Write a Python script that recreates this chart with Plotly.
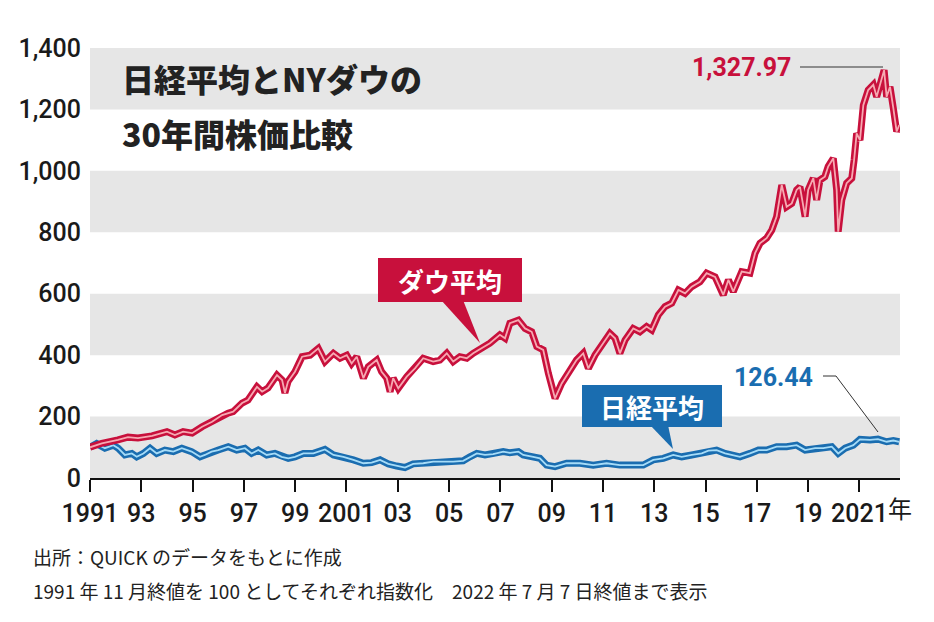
import plotly.graph_objects as go

# ---- data (index, 1991/11 = 100) ----
dow_x = [1991.00, 1991.46, 1992.09, 1992.48, 1992.87, 1993.42, 1994.00, 1994.31, 1994.63, 1994.98,
         1995.37, 1995.76, 1996.15, 1996.38, 1996.58, 1996.93, 1997.16, 1997.51, 1997.71, 1997.94,
         1998.29, 1998.49, 1998.60, 1998.72, 1998.99, 1999.27, 1999.58, 1999.90, 2000.16, 2000.49,
         2000.75, 2001.01, 2001.20, 2001.40, 2001.66, 2001.85, 2002.18, 2002.37, 2002.57, 2002.70,
         2002.82, 2003.02, 2003.35, 2003.67, 2003.99, 2004.38, 2004.64, 2004.91, 2005.16, 2005.42,
         2005.69, 2005.94, 2006.27, 2006.59, 2006.98, 2007.18, 2007.37, 2007.70, 2007.96, 2008.22,
         2008.42, 2008.67, 2008.87, 2009.13, 2009.39, 2009.71, 2009.97, 2010.23, 2010.43, 2010.69,
         2010.95, 2011.27, 2011.47, 2011.66, 2011.86, 2012.18, 2012.44, 2012.70, 2012.90, 2013.16,
         2013.42, 2013.68, 2013.94, 2014.20, 2014.46, 2014.78, 2015.04, 2015.37, 2015.69, 2015.89,
         2016.08, 2016.41, 2016.73, 2016.93, 2017.12, 2017.38, 2017.58, 2017.77, 2017.97, 2018.16,
         2018.36, 2018.55, 2018.68, 2018.88, 2019.00, 2019.20, 2019.33, 2019.46, 2019.65, 2019.78,
         2019.98, 2020.11, 2020.17, 2020.31, 2020.50, 2020.70, 2020.79, 2020.89, 2021.02, 2021.15,
         2021.34, 2021.54, 2021.67, 2021.87, 2021.96, 2022.06, 2022.19, 2022.32, 2022.45, 2022.55]
dow_y = [100, 113, 124, 133, 130, 137, 151, 140, 151, 146,
         167, 183, 205, 211, 216, 244, 254, 297, 281, 293,
         335, 319, 277, 314, 346, 395, 400, 422, 379, 406,
         390, 400, 373, 395, 325, 362, 384, 346, 325, 281,
         325, 292, 330, 357, 390, 379, 384, 406, 379, 395,
         390, 406, 422, 439, 466, 455, 504, 514, 487, 476,
         428, 417, 341, 259, 308, 352, 384, 406, 357, 400,
         433, 471, 455, 406, 449, 487, 476, 493, 482, 531,
         558, 569, 612, 601, 623, 639, 667, 655, 596, 645,
         607, 672, 667, 732, 764, 781, 807, 851, 954, 883,
         894, 938, 948, 851, 938, 976, 905, 970, 981, 1014,
         1041, 938, 802, 905, 960, 976, 1035, 1122, 1100, 1214,
         1263, 1280, 1241, 1300, 1327.97, 1241, 1274, 1204, 1128, 1149]

nikkei_x = [1991.00, 1991.26, 1991.58, 1991.91, 1992.10, 1992.36, 1992.63, 1992.82, 1993.08, 1993.34,
            1993.60, 1993.92, 1994.25, 1994.58, 1994.96, 1995.29, 1995.48, 1995.74, 1996.00, 1996.39,
            1996.72, 1997.04, 1997.30, 1997.56, 1997.89, 1998.21, 1998.47, 1998.73, 1998.99, 1999.32,
            1999.71, 2000.16, 2000.49, 2000.88, 2001.27, 2001.66, 2001.98, 2002.31, 2002.63, 2002.96,
            2003.28, 2003.60, 2003.99, 2004.38, 2004.77, 2005.16, 2005.55, 2005.81, 2006.08, 2006.40,
            2006.72, 2007.11, 2007.37, 2007.70, 2007.89, 2008.28, 2008.54, 2008.80, 2009.13, 2009.58,
            2010.10, 2010.62, 2011.14, 2011.66, 2012.18, 2012.57, 2012.96, 2013.35, 2013.74, 2014.07,
            2014.46, 2014.85, 2015.11, 2015.43, 2015.76, 2016.02, 2016.34, 2016.73, 2017.06, 2017.38,
            2017.77, 2018.16, 2018.55, 2018.88, 2019.27, 2019.59, 2019.92, 2020.17, 2020.44, 2020.76,
            2021.02, 2021.41, 2021.72, 2022.06, 2022.32, 2022.55]
nikkei_y = [100, 112, 97, 107, 97, 75, 80, 69, 80, 97,
            80, 91, 86, 97, 86, 69, 75, 86, 91, 102,
            91, 97, 80, 91, 75, 80, 69, 64, 69, 80,
            80, 93, 75, 69, 59, 48, 50, 59, 46, 39,
            34, 46, 48, 53, 53, 53, 56, 69, 80, 75,
            78, 86, 82, 86, 75, 69, 64, 42, 37, 48,
            48, 42, 48, 42, 42, 42, 59, 64, 75, 69,
            75, 80, 89, 91, 80, 75, 69, 80, 91, 91,
            102, 102, 107, 91, 97, 97, 102, 80, 97, 107,
            126, 124, 126.44, 118, 122, 118]

y_ticks = [0, 200, 400, 600, 800, 1000, 1200, 1400]
x_ticks = list(range(1991, 2022, 2))
x_labels = ["1991", "93", "95", "97", "99", "2001", "03", "05", "07", "09",
            "11", "13", "15", "17", "19", "2021"]

RED = "#c8103c"
RED_IN = "#f6a9b2"
BLUE = "#1a6db0"
BLUE_IN = "#a6dcf8"
JP = "Noto Sans CJK JP"
NUM = "Roboto"

# plot area in pixels: x 90..900, y 48..478
def px(x):
    return (x - 90) / 810


def py(y):
    return (478 - y) / 430


fig = go.Figure()
for xs, ys, outer, inner in [(nikkei_x, nikkei_y, BLUE, BLUE_IN), (dow_x, dow_y, RED, RED_IN)]:
    fig.add_trace(go.Scatter(x=xs, y=ys, mode="lines", line=dict(color=outer, width=7),
                             hoverinfo="skip", showlegend=False))
    fig.add_trace(go.Scatter(x=xs, y=ys, mode="lines", line=dict(color=inner, width=1.8),
                             hoverinfo="skip", showlegend=False))

shapes = []
# alternating grey bands
for lo in [0, 400, 800, 1200]:
    shapes.append(dict(type="rect", xref="paper", yref="y", x0=0, x1=1, y0=lo, y1=lo + 200,
                       fillcolor="#e6e6e6", line=dict(width=0), layer="below"))

# callout boxes
shapes.append(dict(type="rect", xref="paper", yref="paper", x0=px(378), x1=px(522),
                   y0=py(302), y1=py(258), fillcolor=RED, line=dict(width=0)))
shapes.append(dict(type="path", xref="paper", yref="paper",
                   path=f"M {px(441)} {py(300)} L {px(463)} {py(300)} L {px(480)} {py(343)} Z",
                   fillcolor=RED, line=dict(width=0)))
shapes.append(dict(type="rect", xref="paper", yref="paper", x0=px(582), x1=px(722),
                   y0=py(427), y1=py(385), fillcolor=BLUE, line=dict(width=0)))
shapes.append(dict(type="path", xref="paper", yref="paper",
                   path=f"M {px(650)} {py(425)} L {px(668)} {py(425)} L {px(673)} {py(449)} Z",
                   fillcolor=BLUE, line=dict(width=0)))

# leader lines
shapes.append(dict(type="line", xref="paper", yref="paper", x0=px(800), x1=px(883),
                   y0=py(67), y1=py(67), line=dict(color="#333333", width=1)))
shapes.append(dict(type="path", xref="paper", yref="paper",
                   path=f"M {px(823)} {py(376)} L {px(836)} {py(376)} L {px(878)} {py(432)}",
                   line=dict(color="#333333", width=1)))

annotations = [
    dict(text="日経平均とNYダウの", x=px(120), y=py(78), xanchor="left", yanchor="middle",
         font=dict(family=JP, size=32, color="#222222", weight=900)),
    dict(text="30年間株価比較", x=px(120), y=py(133), xanchor="left", yanchor="middle",
         font=dict(family=JP, size=32, color="#222222", weight=900)),
    dict(text="ダウ平均", x=px(450), y=py(280), xanchor="center", yanchor="middle",
         font=dict(family=JP, size=26, color="white", weight=700)),
    dict(text="日経平均", x=px(652), y=py(406), xanchor="center", yanchor="middle",
         font=dict(family=JP, size=26, color="white", weight=700)),
    dict(text="1,327.97", x=px(793), y=py(67), xanchor="right", yanchor="middle",
         font=dict(family=NUM, size=25, color=RED, weight=700)),
    dict(text="126.44", x=px(815), y=py(377), xanchor="right", yanchor="middle",
         font=dict(family=NUM, size=25, color=BLUE, weight=700)),
    dict(text="年", x=px(886), y=py(508), xanchor="left", yanchor="middle",
         font=dict(family=JP, size=24, color="#1a1a1a")),
    dict(text="出所：QUICK のデータをもとに作成", x=px(31), y=py(556), xanchor="left",
         yanchor="middle", font=dict(family=JP, size=19, color="#222222")),
    dict(text="1991 年 11 月終値を 100 としてそれぞれ指数化　2022 年 7 月 7 日終値まで表示",
         x=px(31), y=py(590), xanchor="left", yanchor="middle",
         font=dict(family=JP, size=19, color="#222222")),
]
for a in annotations:
    a.update(xref="paper", yref="paper", showarrow=False)

fig.update_layout(
    width=934, height=622,
    margin=dict(l=90, r=34, t=48, b=144),
    paper_bgcolor="white", plot_bgcolor="white",
    shapes=shapes, annotations=annotations,
    xaxis=dict(range=[1991, 2022.58], tickvals=x_ticks, ticktext=x_labels,
               ticks="outside", ticklen=12, tickwidth=1.5, tickcolor="#111111",
               showline=True, linecolor="#111111", linewidth=1.5, showgrid=False,
               zeroline=False, automargin=False,
               tickfont=dict(family=NUM, size=25, color="#1a1a1a", weight=500)),
    yaxis=dict(range=[0, 1400], tickvals=y_ticks, tickformat=",", showgrid=False,
               zeroline=False, ticks="", ticklabelstandoff=8, automargin=False,
               tickfont=dict(family=NUM, size=25, color="#1a1a1a", weight=500)),
)

# drop the page's default 8px body margin so the figure sits at the window's origin
fig.write_html("out.html", config={"displayModeBar": False},
               post_script="document.body.style.margin='0px';")
